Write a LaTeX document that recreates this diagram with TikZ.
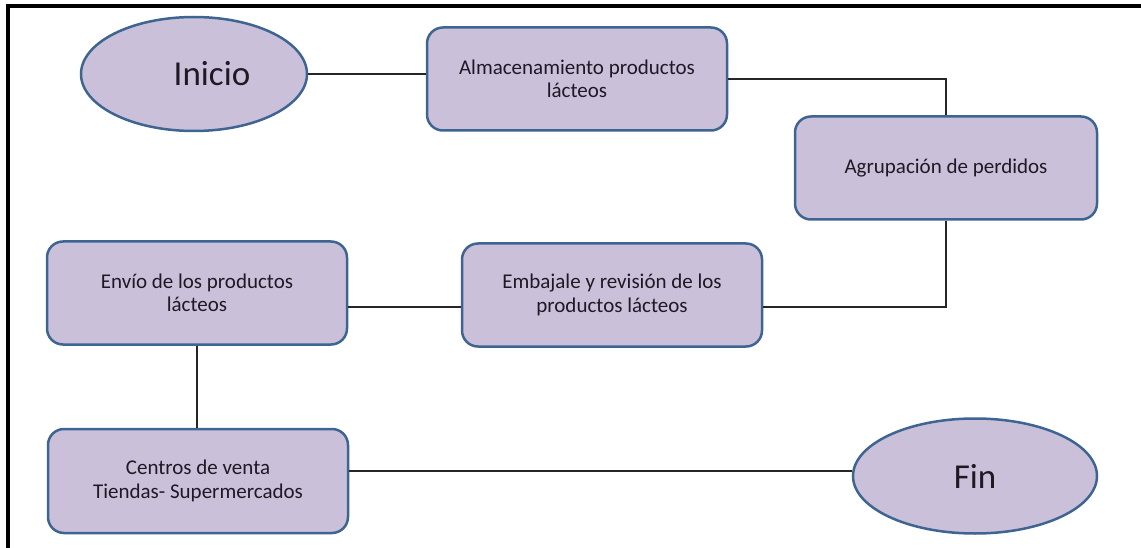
\documentclass[tikz,border=0pt]{standalone}
\usepackage{fontspec}
\setmainfont{Carlito}
\usetikzlibrary{shapes.geometric}
\definecolor{boxfill}{RGB}{203,192,218}
\definecolor{boxline}{RGB}{62,100,145}
\definecolor{txt}{RGB}{30,25,35}
\begin{document}
\begin{tikzpicture}[x=1pt,y=-1pt,
  procbox/.style={draw=boxline, line width=2.5pt, fill=boxfill, rounded corners=16pt,
    minimum width=300pt, minimum height=103pt, align=center, inner sep=0pt,
    font=\fontsize{21}{23.5}\selectfont, text=txt},
  termnode/.style={ellipse, draw=boxline, line width=2.5pt, fill=boxfill, inner sep=0pt,
    font=\fontsize{35}{40}\selectfont, text=txt},
  link/.style={draw=black!85, line width=1.5pt}]
\useasboundingbox (0,0) rectangle (1141,548);
\draw[line width=4pt] (7.5,548) -- (7.5,6.5) -- (1141,6.5);

\node[termnode, minimum width=226pt, minimum height=114pt] (inicio) at (194,74) {\hspace*{36pt}Inicio};
\node[procbox] (alm) at (577,79) {Almacenamiento productos\\lácteos};
\node[procbox, minimum width=302pt] (agr) at (946,168) {Agrupación de perdidos};
\node[procbox] (emb) at (612,295) {Embajale y revisión de los\\productos lácteos};
\node[procbox] (env) at (197,293) {Envío de los productos\\lácteos};
\node[procbox, minimum height=104pt] (cen) at (198,481) {Centros de venta\\Tiendas- Supermercados};
\node[termnode, minimum width=244pt, minimum height=115pt] (fin) at (975,476) {Fin};

\draw[link] (inicio.east) -- (inicio.east -| alm.west);
\draw[link] (alm.east) -| (agr.north);
\coordinate (embR) at ([yshift=-12pt]emb.east);
\coordinate (embL) at ([yshift=-12pt]emb.west);
\draw[link] (agr.south) |- (embR);
\draw[link] (embL) -- (embL -| env.east);
\draw[link] (env.south) -- (env.south |- cen.north);
\coordinate (cenR) at ([yshift=10pt]cen.east);
\draw[link] (cenR) -- (cenR -| fin.west);
\end{tikzpicture}
\end{document}
